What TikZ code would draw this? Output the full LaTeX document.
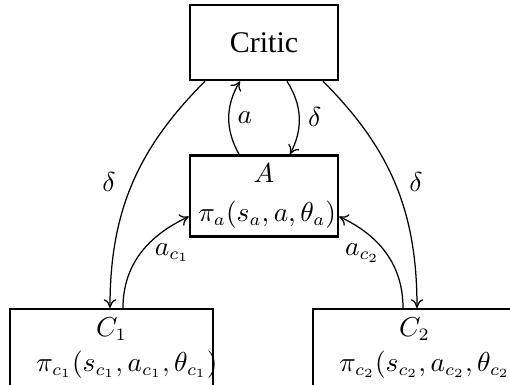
\documentclass[tikz,border=0pt]{standalone}
\usepackage{amsmath}
\usepackage{fontspec}
\newfontfamily\criticfont{Liberation Serif}
\usetikzlibrary{arrows.meta, positioning}
\tikzset{
  box/.style={
    rectangle, draw, line width=1pt, align=center,
    inner sep=3.33pt, minimum height=32.4pt
  },
  flow/.style={-{To[length=3.5pt,width=5pt]}, line width=0.5pt}
}

\begin{document}
\begin{tikzpicture}[font=\fontsize{10.7}{13}\selectfont]
  \useasboundingbox (-105.6pt,17pt) rectangle (98.4pt,-137pt);

  \node[box, minimum width=59.2pt, minimum height=30pt,
        font={\criticfont\fontsize{12}{14}\selectfont}] (critic) {Critic};
  \node[box, below=29.2pt of critic, text width=52.5pt] (A)
    {$A$\\[2.6pt] $\pi_a(s_a,a,\theta_a)$};
  \node[box, below=28pt of A, xshift=-61pt, text width=60pt,
        minimum width=81.2pt, minimum height=30pt] (C1)
    {$C_1$\\[1pt] $\pi_{c_1}(s_{c_1},a_{c_1},\theta_{c_1})$};
  \node[box, below=28pt of A, xshift=60.2pt, text width=60pt,
        minimum width=81.2pt, minimum height=30pt] (C2)
    {$C_2$\\[1pt] $\pi_{c_2}(s_{c_2},a_{c_2},\theta_{c_2})$};

  % critic <-> actor
  \draw[flow] ([xshift=-10pt]A.north) to[bend left=30]
    node[right] {$a$} ([xshift=-9.6pt]critic.south);
  \draw[flow] ([xshift=9.2pt]critic.south) to[bend left=30]
    node[right] {$\delta$} ([xshift=10.4pt]A.north);

  % critic -> agents
  \draw[flow] ([xshift=-23.6pt]critic.south) to[out=225, in=90]
    node[left, xshift=-3pt, yshift=1pt] {$\delta$} ([xshift=-0.6pt]C1.north);
  \draw[flow] ([xshift=23.6pt]critic.south) to[out=-45, in=90]
    node[right, xshift=2pt, yshift=1pt] {$\delta$} ([xshift=1pt]C2.north);

  % agents -> actor
  \draw[flow] ([xshift=4.6pt]C1.north) to[out=90, in=205]
    node[right, xshift=2pt] {$a_{c_1}$} ([yshift=-8.2pt]A.west);
  \draw[flow] ([xshift=-4.6pt]C2.north) to[out=90, in=-25]
    node[left, xshift=1pt] {$a_{c_2}$} ([yshift=-8.2pt]A.east);
\end{tikzpicture}
\end{document}
